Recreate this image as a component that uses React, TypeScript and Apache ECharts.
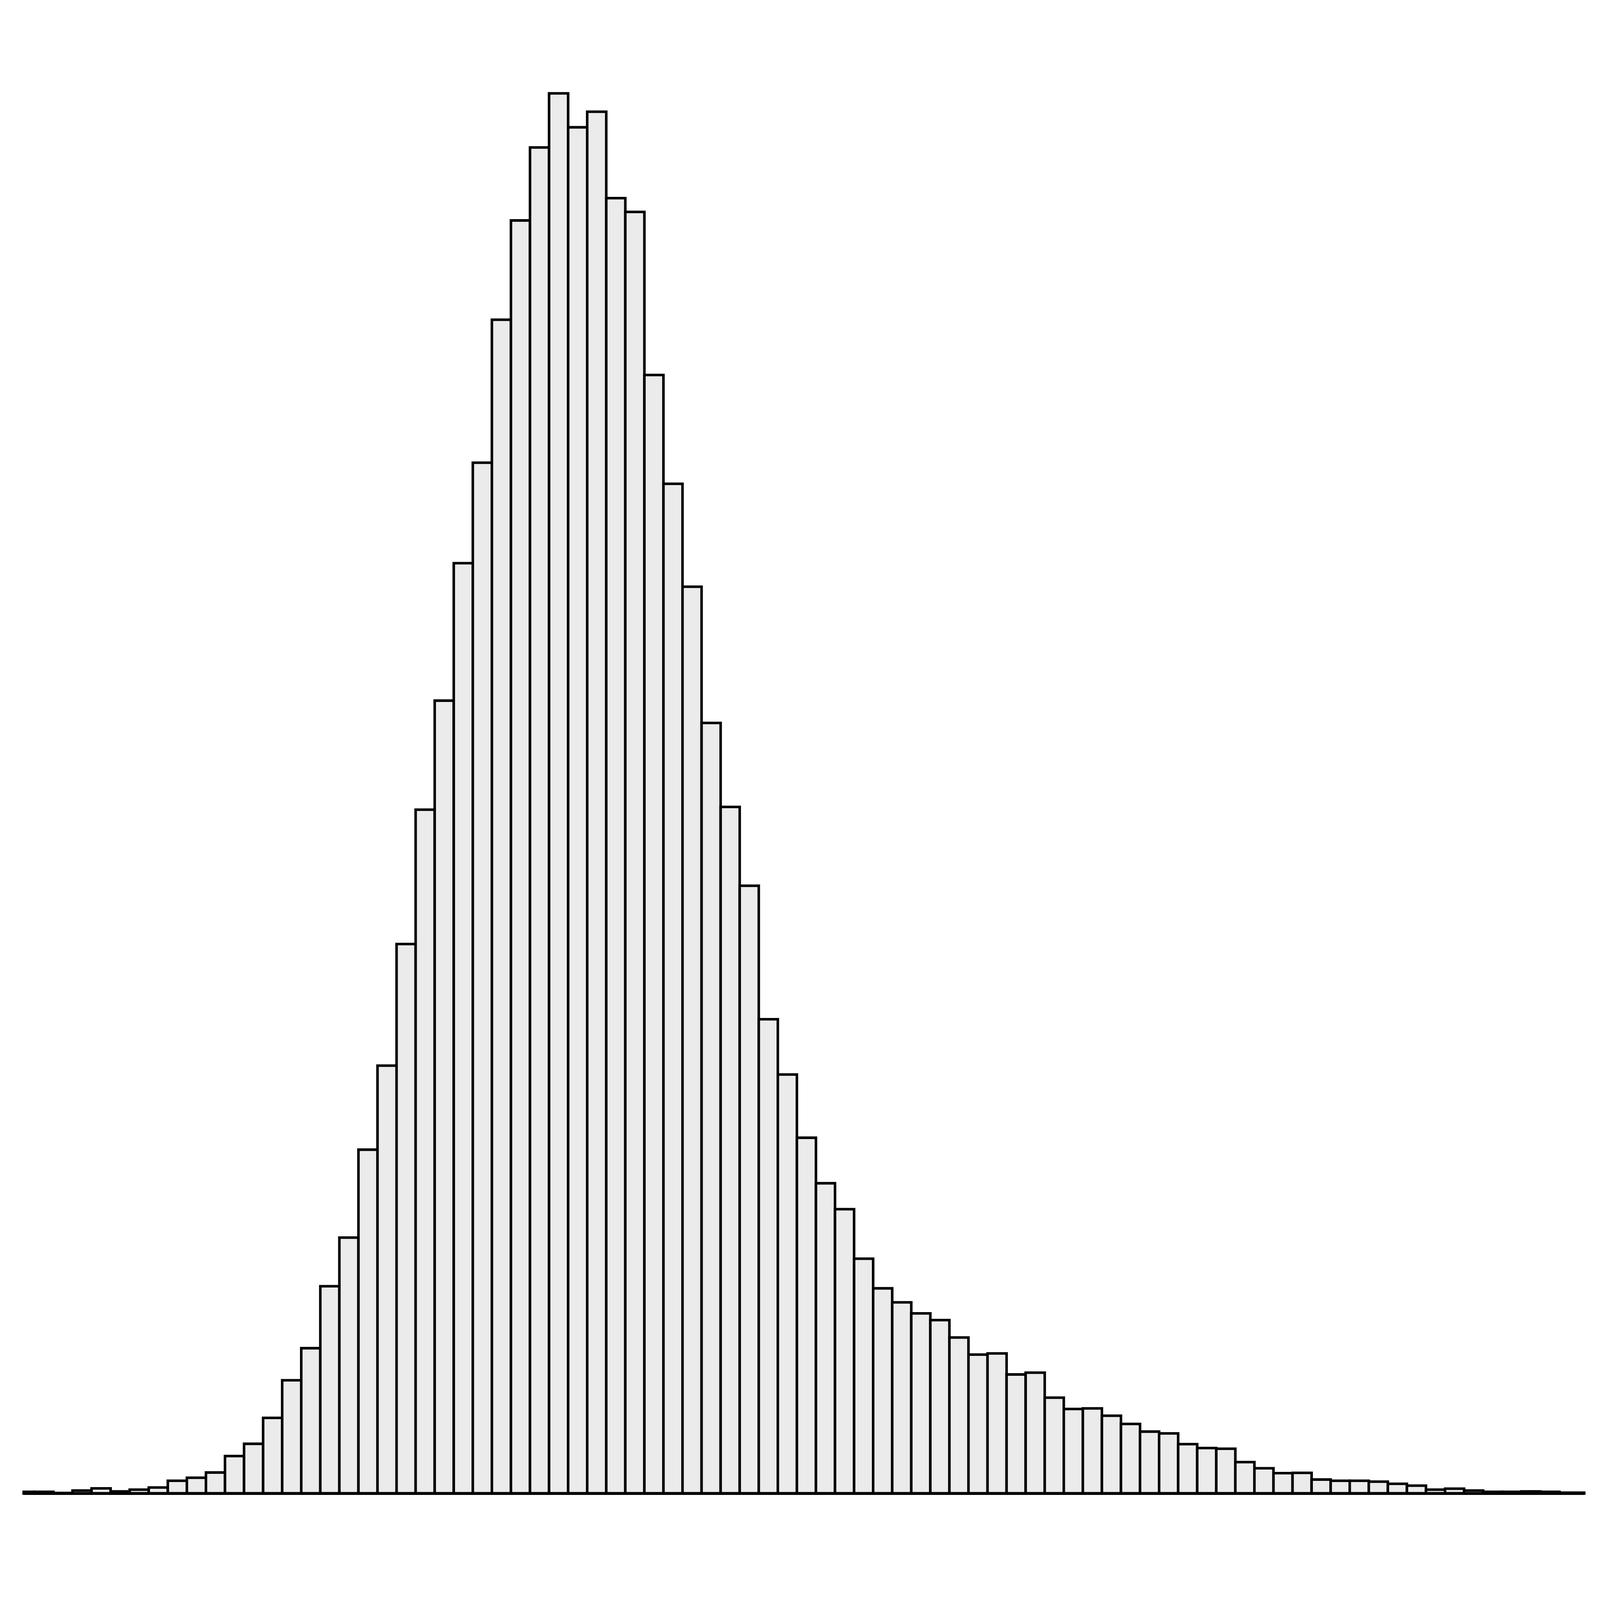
import { useEffect, useRef } from 'react';
import * as echarts from 'echarts';

// histogram bins: bin k covers [binStart + k * binWidth, binStart + (k + 1) * binWidth]
const binStart = 0;
const binWidth = 1;

// visible x range (the outer bins are cut by the axis ends)
const xMin = 0.44;
const xMax = 82.3;
const yMax = 4800;

const counts = [
  5, 5, 1, 9, 16, 6, 12, 19, 41, 51,
  68, 122, 162, 247, 370, 475, 678, 837, 1125, 1400,
  1798, 2238, 2595, 3045, 3374, 3842, 4167, 4406, 4583, 4472,
  4523, 4240, 4195, 3661, 3305, 2968, 2522, 2247, 1989, 1552,
  1371, 1164, 1015, 930, 768, 671, 625, 589, 567, 510,
  454, 458, 389, 395, 313, 276, 278, 254, 227, 202,
  196, 161, 148, 146, 102, 82, 66, 67, 45, 41,
  41, 38, 31, 25, 12, 15, 9, 5, 5, 6,
  5, 2, 2,
];

// layout measured on a 6890 x 4603 canvas, scaled to the real size
const REF_W = 6890;
const REF_H = 4603;

export default function App() {
  const chartRef = useRef<HTMLDivElement>(null);

  useEffect(() => {
    if (!chartRef.current) return;

    const chart = echarts.init(chartRef.current, null, { renderer: 'svg' });
    const sx = chartRef.current.clientWidth / REF_W;
    const sy = chartRef.current.clientHeight / REF_H;

    const option: echarts.EChartsOption = {
      animation: false,
      backgroundColor: '#ffffff',
      grid: {
        left: 102 * sx,
        right: 68 * sx,
        top: 78 * sy,
        bottom: 307 * sy,
        containLabel: false,
      },
      xAxis: {
        type: 'value',
        min: xMin,
        max: xMax,
        axisLine: {
          show: true,
          lineStyle: { color: '#000000', width: 12 * sx },
        },
        axisTick: { show: false },
        axisLabel: { show: false },
        splitLine: { show: false },
      },
      yAxis: {
        type: 'value',
        min: 0,
        max: yMax,
        show: false,
        splitLine: { show: false },
      },
      series: [
        {
          type: 'custom',
          data: counts.map((c, k) => [binStart + k * binWidth, c]),
          renderItem: (params: any, api: any) => {
            const x0 = api.value(0);
            const v = api.value(1);
            const topLeft = api.coord([x0, v]);
            const bottomRight = api.coord([x0 + binWidth, 0]);
            const cs = params.coordSys;
            const shape = echarts.graphic.clipRectByRect(
              {
                x: topLeft[0],
                y: topLeft[1],
                width: bottomRight[0] - topLeft[0],
                height: bottomRight[1] - topLeft[1],
              },
              { x: cs.x, y: cs.y, width: cs.width, height: cs.height }
            );
            if (!shape) return null;
            return {
              type: 'rect',
              shape,
              style: {
                fill: '#ebebeb',
                stroke: '#000000',
                lineWidth: 11 * sx,
              },
            };
          },
        },
      ],
    };

    chart.setOption(option);

    return () => {
      chart.dispose();
    };
  }, []);

  return (
    <div
      ref={chartRef}
      style={{ position: 'fixed', left: 0, top: 0, width: '100vw', height: '100vh' }}
    />
  );
}
